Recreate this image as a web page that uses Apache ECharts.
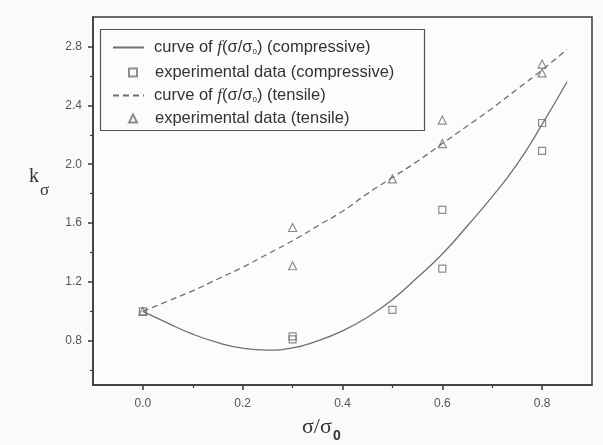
<!DOCTYPE html>
<html>
<head>
<meta charset="utf-8">
<script src="https://cdn.jsdelivr.net/npm/echarts@6/dist/echarts.min.js"></script>
<style>
  html, body { margin: 0; padding: 0; background: #fafafa; }
  #chart { width: 603px; height: 445px; }
</style>
</head>
<body>
<div id="chart"></div>
<script>
// fitted curves
const curveX = [0, 0.05, 0.10, 0.15, 0.20, 0.25, 0.30, 0.35, 0.40, 0.45, 0.50, 0.55, 0.60, 0.65, 0.70, 0.75, 0.80, 0.85];
const compCurveY = [1.00, 0.92, 0.845, 0.788, 0.750, 0.737, 0.752, 0.800, 0.868, 0.96, 1.08, 1.23, 1.39, 1.58, 1.78, 2.00, 2.27, 2.56];
const tensCurveY = [1.00, 1.07, 1.14, 1.22, 1.30, 1.39, 1.48, 1.58, 1.68, 1.80, 1.91, 2.02, 2.14, 2.26, 2.38, 2.51, 2.64, 2.78];

// experimental points
const compExpX = [0, 0.3, 0.3, 0.5, 0.6, 0.6, 0.8, 0.8];
const compExpY = [1.00, 0.83, 0.81, 1.01, 1.29, 1.69, 2.28, 2.09];
const tensExpX = [0, 0.3, 0.3, 0.5, 0.6, 0.6, 0.8, 0.8];
const tensExpY = [1.00, 1.57, 1.31, 1.90, 2.30, 2.14, 2.68, 2.62];

// ticks
const xLabelTicks = [0, 0.2, 0.4, 0.6, 0.8];
const xMinorTicks = [0.1, 0.3, 0.5, 0.7];
const yLabelTicks = [0.8, 1.2, 1.6, 2.0, 2.4, 2.8];
const yMinorTicks = [0.6, 1.0, 1.4, 1.8, 2.2, 2.6];

const chart = echarts.init(document.getElementById('chart'));

const pair = (xs, ys) => xs.map((x, i) => [x, ys[i]]);

const axisColor = '#3a3a3a';
const markColor = '#707070';
const labelStyle = { color: '#555', fontSize: 12, fontFamily: 'Liberation Sans, Arial' };

const legendNames = {
    compCurve: '{gl| }{t|curve of }{i|f}{t|(σ/σ}{s|0}{t|) (compressive)}',
    compExp: '{gs| }{t|experimental data (compressive)}',
    tensCurve: '{gl| }{t|curve of }{i|f}{t|(σ/σ}{s|0}{t|) (tensile)}',
    tensExp: '{gs| }{t|experimental data (tensile)}',
};

const legendText = {
    color: '#333',
    rich: {
        gl: { width: 5, fontSize: 16.5, lineHeight: 18 },
        gs: { width: 13, fontSize: 16.5, lineHeight: 18 },
        t: { fontSize: 16.5, fontFamily: 'Liberation Sans, Arial', color: '#333', lineHeight: 18 },
        i: { fontSize: 17, fontFamily: 'Liberation Serif, Times New Roman', fontStyle: 'italic', color: '#333', lineHeight: 18 },
        s: { fontSize: 8, fontFamily: 'Liberation Sans, Arial', color: '#333', padding: [9, 0, 0, 0], lineHeight: 18 },
    },
};

// one legend per row so line and marker keys can have their own sizes
function legendRow(name, centerY, isLine) {
    return {
        orient: 'vertical',
        left: isLine ? 112 : 128,
        top: centerY - 9,
        padding: 0,
        itemWidth: isLine ? 31 : 8,
        itemHeight: 8,
        itemGap: 0,
        data: [isLine ? { name, itemStyle: { opacity: 0 } } : name],
        formatter: n => legendNames[n],
        textStyle: legendText,
        selectedMode: false,
    };
}

const option = {
    backgroundColor: '#fafafa',
    animation: false,
    grid: {
        left: 93, top: 17, right: 11, bottom: 60,
        show: true, borderColor: axisColor, borderWidth: 1.5, backgroundColor: '#fcfcfc',
    },
    legend: [
        legendRow('compCurve', 48, true),
        legendRow('compExp', 73, false),
        legendRow('tensCurve', 96, true),
        legendRow('tensExp', 119, false),
    ],
    xAxis: [{
        type: 'value', min: -0.1, max: 0.9,
        splitLine: { show: false },
        axisLine: { onZero: false, lineStyle: { color: axisColor, width: 1.5 } },
        axisTick: { customValues: xLabelTicks, length: 5, lineStyle: { color: axisColor, width: 1.5 } },
        axisLabel: { customValues: xLabelTicks, margin: 13, formatter: v => v.toFixed(1), ...labelStyle },
    }, {
        type: 'value', min: -0.1, max: 0.9, position: 'bottom',
        splitLine: { show: false },
        axisLine: { show: false, onZero: false },
        axisTick: { customValues: xMinorTicks, length: 3, lineStyle: { color: axisColor, width: 1.2 } },
        axisLabel: { show: false },
    }],
    yAxis: [{
        type: 'value', min: 0.5, max: 3.0, position: 'left',
        splitLine: { show: false },
        axisLine: { onZero: false, lineStyle: { color: axisColor, width: 1.5 } },
        axisTick: { customValues: yLabelTicks, length: 5, lineStyle: { color: axisColor, width: 1.5 } },
        axisLabel: { customValues: yLabelTicks, margin: 11, formatter: v => v.toFixed(1), ...labelStyle },
    }, {
        type: 'value', min: 0.5, max: 3.0, position: 'left',
        splitLine: { show: false },
        axisLine: { show: false, onZero: false },
        axisTick: { customValues: yMinorTicks, length: 3, lineStyle: { color: axisColor, width: 1.2 } },
        axisLabel: { show: false },
    }],
    series: [{
        name: 'compCurve',
        type: 'line',
        data: pair(curveX, compCurveY),
        smooth: true,
        symbol: 'none',
        lineStyle: { color: markColor, width: 1.3 },
        itemStyle: { color: markColor },
    }, {
        name: 'compExp',
        type: 'scatter',
        data: pair(compExpX, compExpY),
        symbol: 'rect',
        symbolSize: 7,
        itemStyle: { color: 'rgba(0,0,0,0)', borderColor: markColor, borderWidth: 1.2 },
    }, {
        name: 'tensCurve',
        type: 'line',
        data: pair(curveX, tensCurveY),
        smooth: true,
        symbol: 'none',
        lineStyle: { color: markColor, width: 1.3, type: [6, 4] },
        itemStyle: { color: markColor },
    }, {
        name: 'tensExp',
        type: 'scatter',
        data: pair(tensExpX, tensExpY),
        symbol: 'triangle',
        symbolSize: 8,
        itemStyle: { color: 'rgba(0,0,0,0)', borderColor: markColor, borderWidth: 1.2 },
    }],
    graphic: [
        // legend frame
        { type: 'rect', left: 98, top: 27, shape: { width: 324, height: 101 }, style: { fill: 'none', stroke: '#555', lineWidth: 1.2 } },
        // y-axis title k_sigma
        { type: 'text', left: 29, top: 167, style: { text: 'k', fontSize: 20, fontFamily: 'Liberation Serif, Times New Roman', fill: '#333' } },
        { type: 'text', left: 40, top: 182, style: { text: 'σ', fontSize: 17, fontFamily: 'Liberation Serif, Times New Roman', fill: '#333' } },
        // x-axis title sigma/sigma_0
        { type: 'text', left: 302, top: 416, style: { text: 'σ/σ', fontSize: 22, fontFamily: 'Liberation Serif, Times New Roman', fill: '#333' } },
        { type: 'text', left: 333, top: 429, style: { text: '0', fontSize: 14, fontFamily: 'Liberation Sans, Arial', fontWeight: 'bold', fill: '#333' } },
    ],
};

chart.setOption(option);
window.addEventListener('resize', () => chart.resize());
</script>
</body>
</html>
